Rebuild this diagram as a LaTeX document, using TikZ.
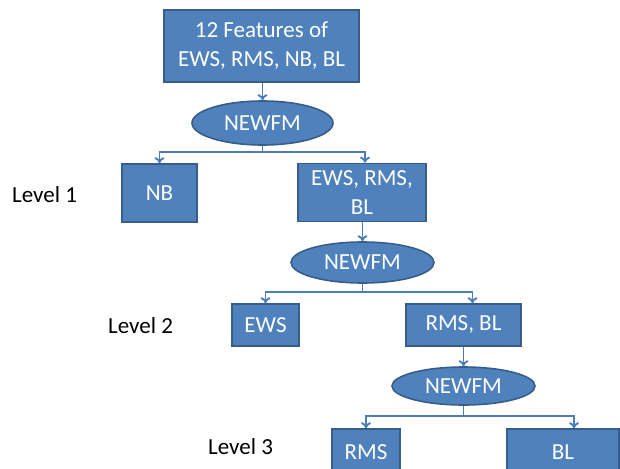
\documentclass[tikz,border=0pt]{standalone}
\usepackage{fontspec}
\setmainfont{Carlito}
\usetikzlibrary{arrows.meta,shapes.geometric}
\definecolor{boxblue}{HTML}{4F81BD}
\definecolor{boxedge}{HTML}{385D8A}
\definecolor{lineblue}{HTML}{4A7EBB}
\tikzset{
  featbox/.style={rectangle, draw=boxedge, fill=boxblue, line width=1.6pt, text=white,
    align=center, inner sep=0pt, font=\fontsize{23}{29}\selectfont},
  fmnode/.style={ellipse, draw=boxedge, fill=boxblue, line width=1.6pt, text=white,
    inner sep=0pt, font=\fontsize{23}{29}\selectfont},
  levlabel/.style={anchor=west, inner sep=0pt, font=\fontsize{23}{29}\selectfont},
  link/.style={draw=lineblue, line width=1.9pt, -{To[length=6pt,width=10pt]}}
}
\begin{document}
\begin{tikzpicture}[x=1pt, y=-1pt]
\useasboundingbox (0,0) rectangle (620,468);
\clip (0,0) rectangle (620,468);
% tree of features
\node [featbox, minimum width=195pt, minimum height=72pt] (all) at (261.5,46) {12 Features of\\EWS, RMS, NB, BL};
\node [fmnode, minimum width=141pt, minimum height=44pt] (fm1) at (262.5,123) {NEWFM};
\node [featbox, minimum width=75pt, minimum height=58pt] (nb) at (159.5,193) {NB};
\node [featbox, minimum width=128pt, minimum height=58pt] (erb) at (362,192.5) {EWS, RMS,\\BL};
\node [fmnode, minimum width=143pt, minimum height=41pt] (fm2) at (362.5,262.5) {NEWFM};
\node [featbox, minimum width=67pt, minimum height=42pt] (ews) at (265.5,325) {EWS};
\node [featbox, minimum width=115pt, minimum height=42pt] (rb) at (463.5,325) {RMS, BL};
\node [fmnode, minimum width=143pt, minimum height=38pt] (fm3) at (463.5,386) {NEWFM};
\node [featbox, minimum width=68pt, minimum height=46pt] (rms) at (366,452) {RMS};
\node [featbox, minimum width=112pt, minimum height=46pt] (bl) at (563,452) {BL};
% levels
\node [levlabel] (lv1) at (12,195) {Level 1};
\node [levlabel] (lv2) at (108,326) {Level 2};
\node [levlabel] (lv3) at (208,447) {Level 3};
% connectors
\draw [link] (all.south -| fm1.north) -- (fm1.north);
\draw [link] (fm1.south) -- ++(0,6) -| (nb.north);
\draw [link] (fm1.south) -- ++(0,6) -| ([xshift=3pt]erb.north);
\draw [link] (erb.south -| fm2.north) -- (fm2.north);
\draw [link] (fm2.south) -- ++(0,8) -| (ews.north);
\draw [link] (fm2.south) -- ++(0,8) -| ([xshift=9pt]rb.north);
\draw [link] (rb.south -| fm3.north) -- (fm3.north);
\draw [link] (fm3.south) -- ++(0,10) -| (rms.north);
\draw [link] (fm3.south) -- ++(0,10) -| ([xshift=11pt]bl.north);
\end{tikzpicture}
\end{document}
